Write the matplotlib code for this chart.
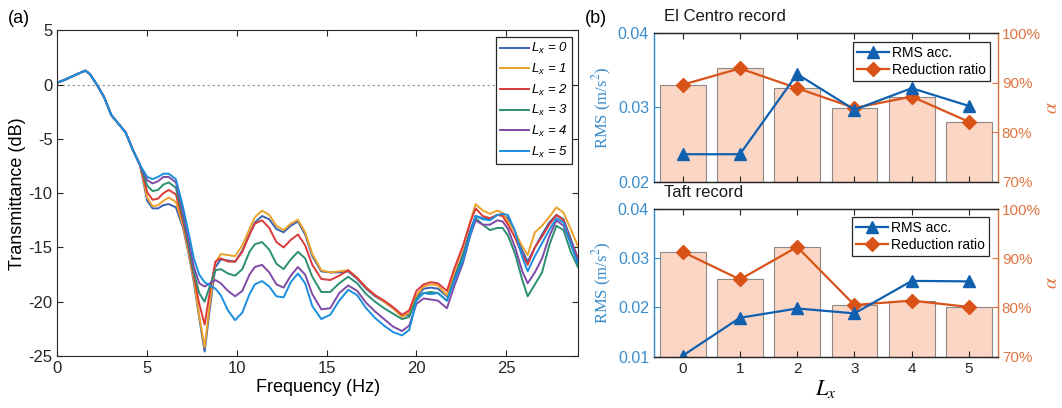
import numpy as np
import matplotlib.pyplot as plt
from matplotlib.ticker import FuncFormatter

plt.rcParams['font.family'] = ['Liberation Sans', 'DejaVu Sans']
plt.rcParams['axes.unicode_minus'] = False
plt.rcParams['mathtext.fontset'] = 'custom'
plt.rcParams['mathtext.rm'] = 'Liberation Sans'
plt.rcParams['mathtext.it'] = 'Liberation Sans:italic'
plt.rcParams['xtick.direction'] = 'in'
plt.rcParams['ytick.direction'] = 'in'
plt.rcParams['lines.solid_joinstyle'] = 'round'

# ---- (a) transmittance curves ----
# below ~4.6 Hz all six curves coincide
f_low = [0, 0.4, 0.8, 1.2, 1.55, 1.8, 2.2, 2.6, 3.0, 3.4, 3.8, 4.2, 4.6]
t_low = [0.2, 0.45, 0.75, 1.05, 1.3, 1.0, 0.0, -1.15, -2.8, -3.6, -4.4, -6.0, -7.4]

f_high = [5.0, 5.3, 5.6, 5.9, 6.2, 6.6, 7.0, 7.3, 7.6, 7.9, 8.2, 8.5, 8.8, 9.1,
          9.5, 9.9, 10.3, 10.7, 11.0, 11.4, 11.8, 12.2, 12.6, 13.0, 13.4, 13.8,
          14.2, 14.7, 15.2, 15.7, 16.2, 16.7, 17.2, 17.7, 18.2, 18.7, 19.2, 19.6,
          20.0, 20.4, 20.8, 21.2, 21.7, 22.1, 22.6, 23.0, 23.3, 23.7, 24.1, 24.5,
          24.8, 25.1, 25.5, 25.9, 26.2, 26.6, 27.0, 27.4, 27.8, 28.2, 28.6, 29.0]

t_lx0 = [-10.7, -11.4, -11.4, -11.1, -11.0, -11.3, -13.2, -15.5, -18.2, -21.5,
         -24.6, -20.5, -16.8, -16.1, -16.2, -16.3, -15.3, -13.8, -12.7, -12.1,
         -12.4, -13.3, -13.6, -13.0, -12.6, -13.8, -15.8, -17.2, -17.3, -17.3,
         -17.2, -17.9, -18.8, -19.5, -20.0, -20.6, -21.3, -21.2, -19.6, -18.8,
         -18.7, -18.8, -19.5, -17.8, -15.6, -13.4, -12.1, -12.3, -12.4, -12.0,
         -12.0, -12.3, -13.6, -15.3, -16.3, -15.0, -13.8, -12.7, -12.0, -12.4,
         -14.2, -16.0]
t_lx1 = [-10.4, -11.2, -11.1, -10.7, -10.4, -10.8, -13.0, -15.4, -18.0, -21.3,
         -24.2, -20.0, -16.4, -15.6, -15.7, -15.8, -14.8, -13.3, -12.2, -11.6,
         -12.0, -13.0, -13.4, -12.8, -12.45, -13.6, -15.6, -17.1, -17.3, -17.2,
         -17.1, -17.8, -18.7, -19.4, -20.0, -20.6, -21.4, -21.0, -19.4, -18.6,
         -18.4, -18.5, -19.4, -17.3, -15.0, -12.6, -11.0, -11.6, -11.9, -11.6,
         -11.8, -12.6, -13.6, -14.9, -15.7, -13.6, -13.0, -12.2, -11.3, -11.8,
         -13.3, -14.9]
t_lx2 = [-9.9, -10.6, -10.5, -10.0, -9.7, -10.1, -12.6, -15.0, -17.6, -20.2,
         -22.1, -19.0, -16.3, -16.0, -16.3, -16.3, -15.4, -13.8, -12.8, -12.5,
         -13.2, -14.5, -15.0, -14.3, -13.8, -14.8, -16.6, -17.9, -18.0, -17.6,
         -17.1, -17.8, -18.7, -19.4, -19.9, -20.5, -21.2, -20.8, -19.0, -18.4,
         -18.2, -18.3, -19.0, -17.0, -14.8, -12.7, -11.4, -12.1, -12.3, -12.0,
         -12.1, -12.9, -14.1, -15.7, -16.6, -15.0, -14.0, -12.9, -12.0, -12.5,
         -14.5, -16.0]
t_lx3 = [-9.3, -9.8, -9.7, -9.2, -9.0, -9.5, -12.2, -14.8, -17.3, -19.2,
         -20.0, -18.5, -17.1, -17.0, -17.4, -17.6, -17.0, -15.4, -14.7, -14.5,
         -15.2, -16.5, -17.0, -16.1, -15.4, -16.0, -17.7, -19.1, -19.1, -18.3,
         -17.7, -18.3, -19.3, -20.0, -20.6, -21.1, -21.6, -21.4, -19.7, -19.2,
         -19.1, -19.2, -19.9, -18.0, -15.8, -13.7, -12.3, -12.9, -13.4, -13.2,
         -13.2, -13.9, -15.6, -18.0, -19.5, -18.4, -17.3, -14.8, -13.0, -13.4,
         -15.4, -16.8]
t_lx4 = [-8.8, -9.1, -8.9, -8.5, -8.5, -9.0, -11.8, -14.3, -16.8, -18.3,
         -18.6, -18.3, -18.0, -18.3, -19.0, -19.5, -19.0, -17.5, -16.8, -16.6,
         -17.3, -18.4, -18.7, -17.6, -16.8, -17.5, -19.3, -20.7, -20.6, -19.2,
         -18.5, -19.0, -20.1, -20.9, -21.6, -22.3, -22.7, -22.2, -20.2, -19.7,
         -19.8, -19.9, -20.6, -18.6, -16.4, -13.9, -12.5, -12.9, -12.9, -12.5,
         -12.6, -13.3, -15.0, -17.2, -18.3, -17.3, -16.0, -14.0, -12.5, -13.0,
         -14.6, -16.2]
t_lx5 = [-8.5, -8.7, -8.5, -8.2, -8.2, -8.7, -11.3, -13.6, -16.0, -17.5,
         -18.2, -18.5, -18.8, -19.4, -20.8, -21.7, -21.0, -19.3, -18.4, -18.1,
         -18.6, -19.5, -19.6, -18.2, -17.4, -18.3, -20.4, -21.6, -21.2, -19.9,
         -18.9, -19.4, -20.6, -21.5, -22.2, -22.8, -23.1, -22.6, -19.9, -19.2,
         -19.3, -19.2, -19.9, -18.1, -16.2, -13.8, -12.1, -12.4, -12.5, -12.0,
         -11.9, -12.0, -13.5, -15.9, -17.2, -15.8, -14.6, -13.4, -12.3, -12.7,
         -14.7, -16.5]

lx_labels = ['0', '1', '2', '3', '4', '5']
curve_colors = ['#3a62b4', '#eda22a', '#dc3a3a', '#2b8f72', '#7f4aa6', '#1a8fe0']

# ---- (b) RMS acceleration and reduction ratio ----
lx = [0, 1, 2, 3, 4, 5]
rms_elcentro = [0.0237, 0.0237, 0.0345, 0.0297, 0.0326, 0.0302]
ratio_elcentro = [89.6, 92.9, 88.9, 84.9, 87.2, 82.1]
rms_taft = [0.0102, 0.0179, 0.0198, 0.0188, 0.0254, 0.0253]
ratio_taft = [91.3, 85.7, 92.3, 80.5, 81.4, 80.1]

fig = plt.figure(figsize=(10.62, 4.08), dpi=100)

ax = fig.add_axes([0.0541, 0.1275, 0.4901, 0.7978])
ax.axhline(0, color='#a0a0a0', lw=0.9, ls=(0, (2, 2)), zorder=1)
curves = [t_lx0, t_lx1, t_lx2, t_lx3, t_lx4, t_lx5]
for vals, lab, c in zip(curves, lx_labels, curve_colors):
    ax.plot(f_low + f_high, t_low + vals, color=c, lw=1.4,
            label=r'$L_x$ = ' + lab)
ax.set_xlim(0, 29)
ax.set_ylim(-25, 5)
ax.set_xticks([0, 5, 10, 15, 20, 25])
ax.set_yticks([-25, -20, -15, -10, -5, 0, 5])
ax.tick_params(top=True, right=True, labelsize=12, colors='#262626', length=4)
for s in ax.spines.values():
    s.set_color('#262626')
    s.set_linewidth(0.8)
ax.set_xlabel('Frequency (Hz)', fontsize=13, labelpad=2)
ax.set_ylabel('Transmittance (dB)', fontsize=13, labelpad=2)
leg = ax.legend(loc='upper right', bbox_to_anchor=(0.5386, 0.9086),
                bbox_transform=fig.transFigure,
                prop={'style': 'italic', 'size': 9.5},
                handlelength=2.2, handletextpad=0.2, labelspacing=0.42,
                borderpad=0.3, borderaxespad=0, fancybox=False, framealpha=1)
leg.get_frame().set_edgecolor('#262626')
leg.get_frame().set_linewidth(0.9)

fig.text(0.007, 0.955, '(a)', fontsize=13, va='center')
fig.text(0.551, 0.955, '(b)', fontsize=13, va='center')

rms_blue = '#1060b0'
axis_blue = '#3a8ccc'
red_orange = '#d95319'
axis_orange = '#e07540'


def ratio_panel(rect, rms, ratio, title, ylim, yticks, legend_top, bottom):
    a1 = fig.add_axes(rect)
    a2 = a1.twinx()
    a1.set_zorder(a2.get_zorder() + 1)
    a1.patch.set_visible(False)

    a2.bar(lx, ratio, width=0.8, color='#fcd6c4', edgecolor='#8a8a8a',
           linewidth=0.8)
    d, = a2.plot(lx, ratio, color=red_orange, lw=1.6, marker='D',
                 markersize=7, label='Reduction ratio')
    t, = a1.plot(lx, rms, color=rms_blue, lw=1.6, marker='^',
                 markersize=8, label='RMS acc.')

    a1.set_xlim(-0.5, 5.5)
    a1.set_ylim(*ylim)
    a1.set_yticks(yticks)
    a1.yaxis.set_major_formatter(FuncFormatter(lambda v, p: f'{v:.2f}'))
    a2.set_ylim(70, 100)
    a2.set_yticks([70, 80, 90, 100])
    a2.yaxis.set_major_formatter(FuncFormatter(lambda v, p: f'{v:.0f}%'))
    a1.set_xticks(lx)
    a1.tick_params(axis='x', top=True, labelbottom=bottom, labelsize=11,
                   colors='#262626', length=4)
    a2.tick_params(axis='x', top=False, bottom=False)
    a1.tick_params(axis='y', colors=axis_blue, labelsize=11.5, length=4)
    a2.tick_params(axis='y', colors=axis_orange, labelsize=11, length=4,
                   pad=3)
    for s in ('top', 'bottom'):
        a1.spines[s].set_color('#262626')
        a2.spines[s].set_color('#262626')
    a2.spines['left'].set_color(axis_blue)
    a2.spines['right'].set_color(axis_orange)
    a1.spines['left'].set_color(axis_blue)
    a1.spines['right'].set_color(axis_orange)
    for s in list(a1.spines.values()) + list(a2.spines.values()):
        s.set_linewidth(0.9)

    a1.set_ylabel('RMS (m/s$^2$)', fontsize=12, color=axis_blue,
                  family='Liberation Serif', math_fontfamily='stix',
                  labelpad=3)
    a2.set_ylabel(r'$\alpha$', fontsize=14, color=axis_orange,
                  math_fontfamily='stix', labelpad=2)
    if bottom:
        a1.set_xlabel(r'$L_x$', fontsize=16, math_fontfamily='stix',
                      labelpad=2)

    lg = a1.legend([t, d], ['RMS acc.', 'Reduction ratio'], loc='upper right',
                   bbox_to_anchor=legend_top, bbox_transform=fig.transFigure,
                   fontsize=10, handlelength=2.3, handletextpad=0.2,
                   labelspacing=0.2, borderpad=0.3, borderaxespad=0,
                   fancybox=False, framealpha=1)
    lg.get_frame().set_edgecolor('#262626')
    lg.get_frame().set_linewidth(0.9)

    fig.text(rect[0] + 0.009, rect[1] + rect[3] + 0.04, title, fontsize=12,
             va='center', color='#1a1a1a')


ratio_panel([0.6158, 0.5547, 0.3236, 0.3637], rms_elcentro, ratio_elcentro,
            'El Centro record', (0.02, 0.04), [0.02, 0.03, 0.04],
            (0.9322, 0.8978), False)
ratio_panel([0.6158, 0.1257, 0.3236, 0.362], rms_taft, ratio_taft,
            'Taft record', (0.01, 0.04), [0.01, 0.02, 0.03, 0.04],
            (0.9313, 0.4681), True)

fig.savefig('out.png', dpi=100)
